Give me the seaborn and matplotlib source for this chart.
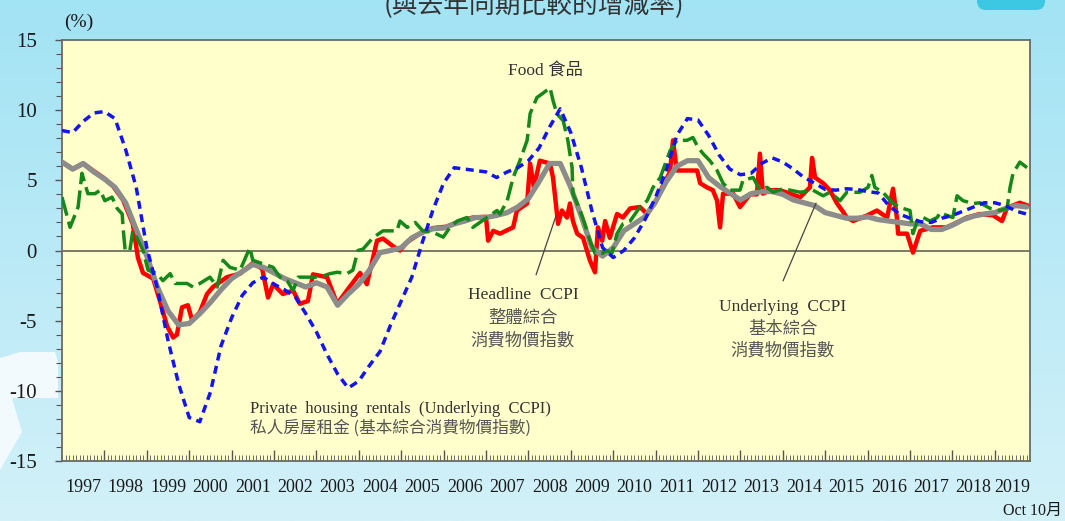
import numpy as np
import pandas as pd
import matplotlib
matplotlib.use("Agg")
import matplotlib.pyplot as plt
import matplotlib.patches as mpatches
from matplotlib.colors import LinearSegmentedColormap
from matplotlib.ticker import MultipleLocator, FixedLocator, NullFormatter
import seaborn as sns

# quarterly grid for the two smooth series (decimal years)
quarters = np.arange(1997.0, 2019.76, 0.25)

# Private housing rentals (underlying CCPI), % yoy
rent = [8.55, 8.4, 9.2, 9.8, 9.9, 9.4, 7.2, 4.5,
        0.2, -2.7, -6.4, -9.5, -11.9, -12.2, -10.1, -6.8,
        -4.8, -3.2, -2.3, -1.9, -2.4, -2.8, -3.3, -4.5,
        -5.8, -7.4, -8.8, -9.8, -9.3, -8.2, -7.2, -5.3,
        -3.6, -1.9, 0.6, 2.9, 4.8, 5.9, 5.8, 5.7,
        5.6, 5.2, 5.6, 5.9, 6.4, 7.3, 8.8, 10.1,
        8.4, 5.9, 2.8, 0.2, -0.5, 0.0, 0.9, 2.2,
        3.8, 5.7, 8.2, 9.4, 9.3, 8.2, 6.8, 5.8,
        5.4, 5.5, 6.2, 6.6, 6.3, 5.8, 5.2, 4.8,
        4.35, 4.3, 4.4, 4.35, 4.2, 4.1, 3.2, 2.6,
        2.3, 2.05, 2.0, 2.3, 2.5, 2.8, 3.1, 3.4,
        3.4, 3.2, 2.8, 2.6]

# Underlying CCPI
underlying = [6.3, 5.8, 6.2, 5.6, 5.1, 4.5, 3.4, 1.5,
              -0.4, -2.6, -4.3, -5.3, -5.2, -4.5, -3.7, -2.8,
              -2.0, -1.5, -1.0, -1.2, -1.6, -2.0, -2.3, -2.6,
              -2.3, -2.6, -3.9, -3.1, -2.4, -1.4, -0.15, 0.0,
              0.2, 0.9, 1.3, 1.55, 1.6, 1.9, 2.1, 2.35,
              2.35, 2.5, 2.7, 3.1, 3.7, 4.9, 6.2, 6.2,
              4.5, 2.4, 0.2, -0.4, 0.2, 1.4, 1.9, 2.4,
              3.5, 4.9, 6.0, 6.4, 6.4, 5.2, 4.6, 4.1,
              3.6, 4.05, 4.2, 4.2, 4.0, 3.6, 3.4, 3.2,
              2.7, 2.5, 2.3, 2.3, 2.4, 2.2, 2.1, 2.0,
              1.9, 1.9, 1.5, 1.5, 1.8, 2.2, 2.45, 2.6,
              2.7, 3.0, 3.2, 3.1]

# Headline CCPI (irregular points)
headline_t = [1997.00, 1997.26, 1997.50, 1997.73, 1997.97, 1998.20, 1998.44, 1998.67,
              1998.79, 1998.91, 1999.15, 1999.31, 1999.48, 1999.62, 1999.71, 1999.83,
              1999.97, 2000.07, 2000.25, 2000.42, 2000.56, 2000.89, 2001.20, 2001.50,
              2001.72, 2001.86, 2001.98, 2002.21, 2002.45, 2002.61, 2002.80, 2002.92,
              2003.25, 2003.49, 2003.72, 2004.03, 2004.19, 2004.43, 2004.57, 2004.81,
              2004.97, 2005.14, 2005.44, 2005.75, 2006.08, 2006.39, 2006.69, 2007.00,
              2007.05, 2007.17, 2007.33, 2007.64, 2007.73, 2007.97, 2008.04, 2008.13,
              2008.27, 2008.51, 2008.58, 2008.70, 2008.79, 2008.91, 2008.98, 2009.05,
              2009.15, 2009.29, 2009.45, 2009.57, 2009.64, 2009.74, 2009.81, 2009.92,
              2010.09, 2010.23, 2010.40, 2010.63, 2010.80, 2010.99, 2011.17, 2011.34,
              2011.41, 2011.50, 2011.74, 2011.98, 2012.05, 2012.21, 2012.35, 2012.45,
              2012.52, 2012.59, 2012.83, 2012.99, 2013.23, 2013.39, 2013.46, 2013.53,
              2013.70, 2013.93, 2014.41, 2014.64, 2014.69, 2014.76, 2014.95, 2015.11,
              2015.28, 2015.40, 2015.51, 2015.66, 2015.99, 2016.22, 2016.46, 2016.60,
              2016.69, 2016.72, 2016.93, 2017.07, 2017.24, 2017.54, 2017.87, 2018.18,
              2018.34, 2018.65, 2018.96, 2019.17, 2019.29, 2019.59, 2019.78]
headline = [6.3, 5.8, 6.2, 5.7, 5.2, 4.6, 3.6, 1.9,
            -0.5, -1.6, -2.0, -3.6, -5.4, -6.2, -6.0, -4.05,
            -3.9, -5.0, -4.4, -3.1, -2.6, -1.9, -1.65, -0.9,
            -1.3, -3.35, -2.4, -3.1, -2.85, -3.8, -3.6, -1.7,
            -1.9, -3.8, -2.85, -1.6, -2.4, 0.7, 0.85, 0.3,
            0.0, 0.6, 1.2, 1.6, 1.7, 2.1, 2.35, 2.4,
            0.7, 1.4, 1.2, 1.65, 2.85, 3.35, 6.2, 4.5,
            6.4, 6.2, 5.2, 1.9, 2.85, 2.35, 3.35, 2.1,
            1.2, 0.9, -0.7, -1.55, 1.65, 0.7, 2.1, 0.9,
            2.6, 2.35, 3.0, 3.1, 2.6, 3.4, 4.6, 5.6,
            7.85, 5.7, 5.7, 5.7, 4.8, 4.5, 4.3, 3.55,
            1.65, 4.05, 4.05, 3.1, 4.0, 4.0, 6.9, 4.05,
            4.3, 4.3, 3.8, 4.5, 6.6, 5.2, 4.8, 4.3,
            3.35, 2.85, 2.35, 2.1, 2.5, 2.85, 2.35, 4.4,
            2.35, 1.2, 1.2, -0.15, 1.4, 1.65, 1.65, 2.1,
            2.35, 2.6, 2.5, 2.1, 3.05, 3.4, 3.2]

# Food
food_t = [1997.00, 1997.19, 1997.38, 1997.47, 1997.61, 1997.78, 1997.90, 1998.01,
          1998.18, 1998.30, 1998.42, 1998.44, 1998.49, 1998.60, 1998.67, 1998.77,
          1998.91, 1999.03, 1999.24, 1999.38, 1999.55, 1999.67, 1999.95, 2000.09,
          2000.25, 2000.49, 2000.66, 2000.80, 2000.96, 2001.20, 2001.43, 2001.50,
          2001.74, 2001.98, 2002.14, 2002.31, 2002.45, 2002.57, 2002.78, 2003.08,
          2003.32, 2003.49, 2003.72, 2003.86, 2003.98, 2004.10, 2004.33, 2004.57,
          2004.90, 2004.97, 2005.14, 2005.33, 2005.51, 2005.75, 2005.99, 2006.15,
          2006.32, 2006.55, 2006.69, 2007.02, 2007.26, 2007.33, 2007.50, 2007.64,
          2007.80, 2007.97, 2008.04, 2008.20, 2008.34, 2008.51, 2008.58, 2008.67,
          2008.82, 2008.93, 2009.03, 2009.05, 2009.15, 2009.22, 2009.33, 2009.45,
          2009.57, 2009.74, 2009.85, 2009.97, 2010.09, 2010.23, 2010.40, 2010.63,
          2010.80, 2010.94, 2011.11, 2011.34, 2011.50, 2011.74, 2011.88, 2012.00,
          2012.12, 2012.28, 2012.45, 2012.59, 2012.75, 2012.99, 2013.06, 2013.30,
          2013.46, 2013.63, 2013.77, 2014.00, 2014.17, 2014.41, 2014.71, 2014.95,
          2015.11, 2015.35, 2015.51, 2015.82, 2016.01, 2016.10, 2016.17, 2016.36,
          2016.60, 2016.83, 2017.00, 2017.07, 2017.17, 2017.31, 2017.47, 2017.64,
          2017.71, 2017.87, 2018.01, 2018.11, 2018.25, 2018.49, 2018.65, 2018.89,
          2019.12, 2019.29, 2019.36, 2019.43, 2019.59, 2019.76]
food = [3.8, 1.65, 3.1, 5.5, 4.05, 4.05, 4.3, 3.55,
        3.8, 3.0, 2.6, 1.65, 0.0, 0.0, 1.4, 0.9,
        0.0, -1.4, -1.65, -2.15, -1.65, -2.35, -2.35, -2.6,
        -2.35, -1.9, -2.6, -0.7, -1.2, -1.4, 0.2, -0.7,
        -0.95, -1.2, -1.9, -2.15, -2.85, -1.9, -1.9, -1.9,
        -1.65, -1.55, -1.65, -1.4, 0.0, 0.1, 0.9, 1.4,
        1.4, 2.1, 1.65, 2.0, 1.4, 1.3, 0.95, 1.65,
        2.1, 2.35, 1.65, 2.35, 2.85, 2.6, 3.55, 5.2,
        6.4, 7.85, 9.75, 10.9, 11.2, 11.6, 10.7, 9.75,
        9.25, 7.85, 5.9, 4.05, 3.35, 2.85, 1.9, 0.7,
        -0.2, -0.2, 0.0, -0.2, 1.2, 1.9, 2.1, 3.1,
        3.55, 4.5, 5.2, 7.1, 7.85, 7.85, 8.05, 7.35,
        6.9, 6.4, 5.7, 4.8, 4.3, 4.3, 5.0, 5.2,
        4.3, 4.5, 4.15, 4.4, 4.3, 4.15, 4.3, 3.9,
        4.15, 3.55, 4.15, 4.15, 4.5, 5.35, 4.5, 4.15,
        3.35, 3.0, 2.85, 1.2, 2.1, 2.35, 2.1, 2.35,
        2.7, 2.5, 2.35, 3.9, 3.55, 3.35, 3.4, 3.0,
        2.85, 3.0, 4.5, 5.5, 6.3, 5.9]

years = list(range(1997, 2020))
x_start, x_end = 1997.0, 2019.83

W, H = 1065, 521
sns.set_theme(style="white")
plt.rcParams['font.family'] = ['Liberation Serif', 'Noto Sans CJK TC', 'DejaVu Sans']
plt.rcParams['axes.unicode_minus'] = False

fig = plt.figure(figsize=(W / 100, H / 100), dpi=100)

# page background (pixel coordinates)
bg = fig.add_axes([0, 0, 1, 1], zorder=-10)
grad = np.linspace(0, 1, 256).reshape(-1, 1)
bg_cmap = LinearSegmentedColormap.from_list("bg", ["#a2e3f4", "#d3f1f9"])
bg.imshow(grad, aspect="auto", cmap=bg_cmap, extent=[0, W, H, 0])
bg.set_xlim(0, W)
bg.set_ylim(H, 0)
bg.axis("off")
bg.add_patch(mpatches.FancyBboxPatch((977, -20), 68, 30,
                                     boxstyle="round,pad=0,rounding_size=9",
                                     color="#3cc8e3", lw=0))
bg.add_patch(mpatches.Polygon([(0, 358), (20, 352), (55, 352), (58, 362), (58, 398),
                               (12, 398), (22, 432), (0, 470)],
                              closed=True, color="#f2fafd", lw=0))

ax = fig.add_axes([62 / W, 1 - 461 / H, (1030 - 62) / W, (461 - 40) / H])
ax.set_facecolor("#ffffcc")

ax.axhline(0, color="#6e6e60", lw=1.3, zorder=1)

df_head = pd.DataFrame({"t": headline_t, "v": headline})
df_food = pd.DataFrame({"t": food_t, "v": food})
df_q = pd.DataFrame({"t": quarters, "rent": rent, "underlying": underlying})

sns.lineplot(data=df_head, x="t", y="v", ax=ax, color="#ff0000", lw=3.2,
             estimator=None, sort=False, zorder=2)
sns.lineplot(data=df_q, x="t", y="underlying", ax=ax, color="#8c8c8c", lw=3.8,
             estimator=None, sort=False, zorder=3)
sns.lineplot(data=df_food, x="t", y="v", ax=ax, color="#14881a", lw=2.5,
             estimator=None, sort=False, zorder=4, linestyle=(0, (5.5, 1.8)))
sns.lineplot(data=df_q, x="t", y="rent", ax=ax, color="#1414ee", lw=2.5,
             estimator=None, sort=False, zorder=5, linestyle=(0, (2.3, 1.6)))

ax.set_xlim(x_start, x_end)
ax.set_ylim(-15, 15)
ax.set_xlabel("")
ax.set_ylabel("")

ax.yaxis.set_major_locator(MultipleLocator(5))
ax.yaxis.set_minor_locator(MultipleLocator(1))
ax.xaxis.set_major_locator(FixedLocator(years[1:]))
ax.xaxis.set_minor_locator(MultipleLocator(1 / 12))
ax.xaxis.set_major_formatter(NullFormatter())
ax.tick_params(axis="x", which="major", direction="in", length=8, width=1, color="#555555", bottom=True)
ax.tick_params(axis="x", which="minor", direction="in", length=4, width=0.6, color="#555555", bottom=True)
ax.tick_params(axis="y", which="major", direction="out", length=5, width=1, color="#555555",
               left=True, labelsize=15, labelcolor="#1a1a1a", pad=13)
ax.tick_params(axis="y", which="minor", direction="out", length=4, width=0.8, color="#555555", left=True)
for lab in ax.get_yticklabels():
    lab.set_family("Liberation Serif")

for s in ax.spines.values():
    s.set_color("#6a6a6a")
    s.set_linewidth(1.3)

# year labels centred within each year
for y in years:
    c = (max(y, x_start) + min(y + 1, x_end)) / 2
    ax.text(c, -0.064, str(y), transform=ax.get_xaxis_transform(),
            ha="center", va="center", fontsize=13, color="#1a1a1a")

txt = "#333333"
cjk = "#555555"
cjk_font = ["Noto Sans CJK TC"]
ax.text(2008.39, 12.83, "Food 食品", ha="center", va="center", fontsize=12.5, color=txt)

ax.text(2007.87, -3.2, "Headline  CCPI", ha="center", va="center", fontsize=12.5, color=txt)
ax.text(2007.87, -4.78, "整體綜合", ha="center", va="center", fontsize=12.5, color=cjk, family=cjk_font)
ax.text(2007.87, -6.41, "消費物價指數", ha="center", va="center", fontsize=12.5, color=cjk, family=cjk_font)
ax.annotate("", xy=(2008.67, 2.64), xytext=(2008.16, -1.92),
            arrowprops=dict(arrowstyle="-", color="#444444", lw=0.9))

ax.text(2014.0, -4.06, "Underlying  CCPI", ha="center", va="center", fontsize=12.5, color=txt)
ax.text(2014.0, -5.56, "基本綜合", ha="center", va="center", fontsize=12.5, color=cjk, family=cjk_font)
ax.text(2014.0, -7.13, "消費物價指數", ha="center", va="center", fontsize=12.5, color=cjk, family=cjk_font)
ax.annotate("", xy=(2014.81, 3.56), xytext=(2013.98, -2.35),
            arrowprops=dict(arrowstyle="-", color="#444444", lw=0.9))

ax.text(2001.43, -11.26, "Private  housing  rentals  (Underlying  CCPI)", ha="left", va="center",
        fontsize=12, color=txt)
ax.text(2001.43, -12.69, "私人房屋租金 (基本綜合消費物價指數)", ha="left", va="center",
        fontsize=12, color=cjk, family=cjk_font)

fig.text(79 / W, 1 - 22 / H, "(%)", ha="center", va="center", fontsize=14, color="#1a1a1a")
fig.text(534 / W, 1 - 13 / H, "(與去年同期比較的增減率)", ha="center", va="baseline",
         fontsize=18.5, color="#333333", family=cjk_font)
fig.text(1062 / W, 1 - 511 / H, "Oct 10月", ha="right", va="center", fontsize=11.5, color="#1a1a1a")

fig.savefig("out.png", dpi=100)
